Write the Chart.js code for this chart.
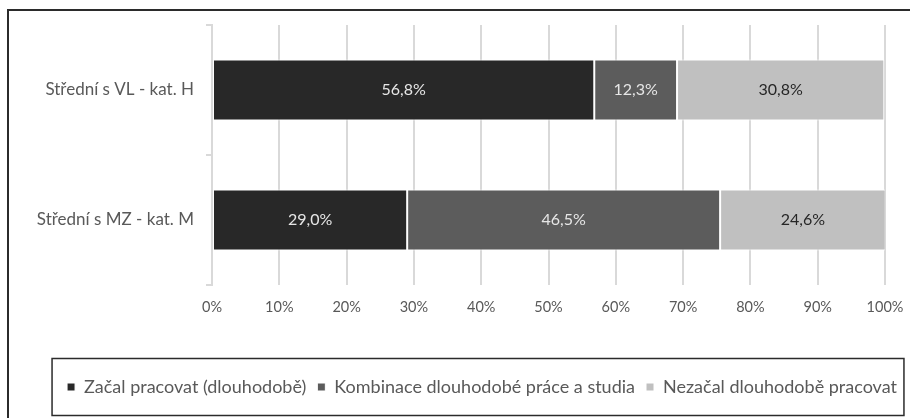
<!DOCTYPE html>
<html>
<head>
<meta charset="utf-8">
<script src="https://cdn.jsdelivr.net/npm/chart.js@4"></script>
<style>
  html, body { margin: 0; padding: 0; background: #fff; overflow: hidden; }
  #frame { position: absolute; left: 7px; top: 9px; width: 1000px; height: 1000px; border: 2px solid #2b2b2b; }
  #wrap { position: absolute; left: 0; top: 0; width: 910px; height: 418px; }
</style>
</head>
<body>
<div id="frame"></div>
<div id="wrap"><canvas id="chart" width="910" height="418"></canvas></div>
<script>
const categories = ['Střední s VL - kat. H', 'Střední s MZ - kat. M'];
const seriesNames = ['Začal pracovat (dlouhodobě)', 'Kombinace dlouhodobé práce a studia', 'Nezačal dlouhodobě pracovat'];
const startedWork = [56.8, 29.0];
const workAndStudy = [12.3, 46.5];
const notStarted = [30.8, 24.6];

const FONT = 'Lato, "Open Sans", sans-serif';

// value labels in the middle of each segment, czech decimal comma
const segmentLabels = {
  id: 'segmentLabels',
  afterDatasetsDraw(chart) {
    const ctx = chart.ctx;
    ctx.save();
    ctx.font = '16px ' + FONT;
    ctx.textAlign = 'center';
    ctx.textBaseline = 'middle';
    chart.data.datasets.forEach((ds, i) => {
      chart.getDatasetMeta(i).data.forEach((bar, j) => {
        const p = bar.getCenterPoint();
        ctx.fillStyle = ds.labelColor;
        ctx.fillText(ds.data[j].toFixed(1).replace('.', ',') + '%', p.x, p.y);
      });
    });
    ctx.restore();
  }
};

// legend sits a bit right of the canvas centre, inside a frame
const legendFrame = {
  id: 'legendFrame',
  afterLayout(chart) {
    chart.legend.left = 54;
  },
  afterDraw(chart) {
    const boxes = chart.legend.legendHitBoxes;
    if (!boxes || !boxes.length) return;
    const l = Math.min(...boxes.map(b => b.left)) - 15;
    const r = Math.max(...boxes.map(b => b.left + b.width)) + 7;
    const cy = boxes[0].top + boxes[0].height / 2;
    const ctx = chart.ctx;
    ctx.save();
    ctx.strokeStyle = '#2b2b2b';
    ctx.lineWidth = 1.5;
    ctx.strokeRect(l, cy - 28.5, r - l, 57);
    ctx.restore();
  }
};

new Chart(document.getElementById('chart').getContext('2d'), {
  type: 'bar',
  data: {
    labels: categories,
    datasets: [
      { label: seriesNames[0], data: startedWork, backgroundColor: '#282828', labelColor: '#e6e6e6' },
      { label: seriesNames[1], data: workAndStudy, backgroundColor: '#5c5c5c', labelColor: '#e6e6e6' },
      { label: seriesNames[2], data: notStarted, backgroundColor: '#c0c0c0', labelColor: '#262626' }
    ]
  },
  options: {
    indexAxis: 'y',
    responsive: false,
    animation: false,
    datasets: {
      bar: {
        borderColor: '#fff',
        borderWidth: 1,
        borderSkipped: false,
        barPercentage: 0.47,
        categoryPercentage: 1
      }
    },
    layout: { padding: { top: 25, left: 0, right: 0, bottom: 12 } },
    plugins: {
      legend: {
        position: 'bottom',
        labels: {
          boxWidth: 8,
          boxHeight: 8,
          padding: 11,
          color: '#595959',
          font: { family: FONT, size: 18 }
        }
      },
      tooltip: { enabled: false }
    },
    scales: {
      x: {
        stacked: true,
        min: 0,
        max: 100,
        ticks: {
          stepSize: 10,
          padding: 14,
          color: '#595959',
          font: { family: FONT, size: 14.5 },
          callback: v => v + '%'
        },
        grid: { color: '#d9d9d9', lineWidth: 2, drawTicks: false },
        border: { display: false },
        afterFit: s => { s.height = 82; s.paddingLeft = 0; s.paddingRight = 25; }
      },
      y: {
        stacked: true,
        ticks: {
          padding: 12,
          color: '#595959',
          font: { family: FONT, size: 17 }
        },
        grid: { drawOnChartArea: false, offset: true, tickLength: 6, color: '#d9d9d9', lineWidth: 2 },
        border: { display: true, color: '#d9d9d9', width: 2 },
        afterFit: s => { s.width = 212; }
      }
    }
  },
  plugins: [segmentLabels, legendFrame]
});
</script>
</body>
</html>
